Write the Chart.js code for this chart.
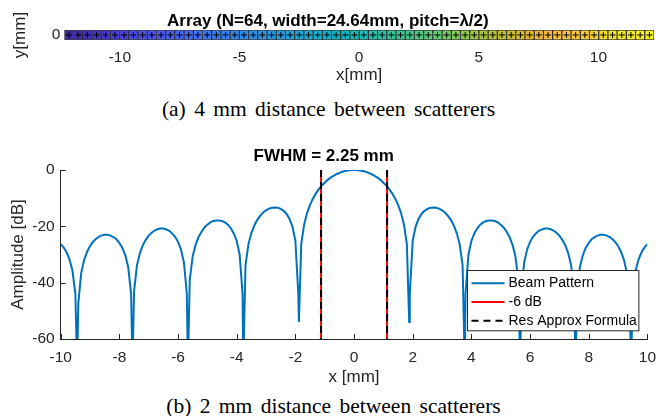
<!DOCTYPE html>
<html>
<head>
<meta charset="utf-8">
<script src="https://cdn.jsdelivr.net/npm/chart.js@4.4.0/dist/chart.umd.min.js"></script>
<style>
  body { margin: 0; background: #fff; width: 659px; height: 416px; position: relative; overflow: hidden; }
  canvas { position: absolute; left: 0; }
  .caption { position: absolute; width: 659px; text-align: center; font-family: "Liberation Serif", "Times New Roman", serif; font-size: 21.5px; line-height: 21px; word-spacing: 3px; color: #000; white-space: nowrap; }
</style>
</head>
<body>
<canvas id="array-chart" width="659" height="92" style="top:0px"></canvas>
<div class="caption" style="top:99px; left:-1px">(a) 4 mm distance between scatterers</div>
<canvas id="beam-chart" width="659" height="262" style="top:130px"></canvas>
<div class="caption" style="top:396px; left:4px">(b) 2 mm distance between scatterers</div>
<script>
// DATA //

// element centres of the 64-element array [mm]
const elemX = [
  -12.1275, -11.7425, -11.3575, -10.9725, -10.5875, -10.2025, -9.8175, -9.4325,
  -9.0475, -8.6625, -8.2775, -7.8925, -7.5075, -7.1225, -6.7375, -6.3525,
  -5.9675, -5.5825, -5.1975, -4.8125, -4.4275, -4.0425, -3.6575, -3.2725,
  -2.8875, -2.5025, -2.1175, -1.7325, -1.3475, -0.9625, -0.5775, -0.1925,
  0.1925, 0.5775, 0.9625, 1.3475, 1.7325, 2.1175, 2.5025, 2.8875,
  3.2725, 3.6575, 4.0425, 4.4275, 4.8125, 5.1975, 5.5825, 5.9675,
  6.3525, 6.7375, 7.1225, 7.5075, 7.8925, 8.2775, 8.6625, 9.0475,
  9.4325, 9.8175, 10.2025, 10.5875, 10.9725, 11.3575, 11.7425, 12.1275
];
const arrayXTicks = [-10, -5, 0, 5, 10];
const arrayYTicks = [0];

// beam pattern [mm] -> [dB]
const beamX = [
  -10, -9.9, -9.8, -9.7, -9.6, -9.5, -9.44, -9.4, -9.3, -9.2, -9.1,
  -9, -8.9, -8.8, -8.7, -8.6, -8.5, -8.4, -8.3, -8.2, -8.1,
  -8, -7.9, -7.8, -7.7, -7.6, -7.552, -7.5, -7.4, -7.3, -7.2, -7.1,
  -7, -6.9, -6.8, -6.7, -6.6, -6.5, -6.4, -6.3, -6.2, -6.1,
  -6, -5.9, -5.8, -5.7, -5.664, -5.6, -5.5, -5.4, -5.3, -5.2, -5.1,
  -5, -4.9, -4.8, -4.7, -4.6, -4.5, -4.4, -4.3, -4.2, -4.1,
  -4, -3.9, -3.8, -3.776, -3.7, -3.6, -3.5, -3.4, -3.3, -3.2, -3.1,
  -3, -2.9, -2.8, -2.7, -2.6, -2.5, -2.4, -2.3, -2.2, -2.1,
  -2, -1.9, -1.88, -1.8, -1.7, -1.6, -1.5, -1.4, -1.3, -1.2, -1.1,
  -1, -0.9, -0.8, -0.7, -0.6, -0.5, -0.4, -0.3, -0.2, -0.1,
  0, 0.1, 0.2, 0.3, 0.4, 0.5, 0.6, 0.7, 0.8, 0.9,
  1, 1.1, 1.2, 1.3, 1.4, 1.5, 1.6, 1.7, 1.8, 1.88, 1.9,
  2, 2.1, 2.2, 2.3, 2.4, 2.5, 2.6, 2.7, 2.8, 2.9,
  3, 3.1, 3.2, 3.3, 3.4, 3.5, 3.6, 3.7, 3.776, 3.8, 3.9,
  4, 4.1, 4.2, 4.3, 4.4, 4.5, 4.6, 4.7, 4.8, 4.9,
  5, 5.1, 5.2, 5.3, 5.4, 5.5, 5.6, 5.664, 5.7, 5.8, 5.9,
  6, 6.1, 6.2, 6.3, 6.4, 6.5, 6.6, 6.7, 6.8, 6.9,
  7, 7.1, 7.2, 7.3, 7.4, 7.5, 7.552, 7.6, 7.7, 7.8, 7.9,
  8, 8.1, 8.2, 8.3, 8.4, 8.5, 8.6, 8.7, 8.8, 8.9,
  9, 9.1, 9.2, 9.3, 9.4, 9.44, 9.5, 9.6, 9.7, 9.8, 9.9,
  10
];
const beamDb = [
  -26.3, -27.5, -29.2, -31.7, -35.7, -44.0, -70, -47.4, -36.5, -31.9, -29.0,
  -27.0, -25.5, -24.5, -23.7, -23.2, -23.0, -23.0, -23.3, -23.8, -24.6,
  -25.9, -27.6, -30.2, -34.4, -44.0, -70, -43.2, -33.8, -29.5, -26.7, -24.8,
  -23.3, -22.3, -21.5, -21.0, -20.8, -20.8, -21.1, -21.6, -22.5, -23.7,
  -25.5, -28.2, -32.7, -44.0, -70, -38.9, -30.6, -26.5, -23.8, -21.9, -20.4,
  -19.4, -18.6, -18.1, -17.9, -17.9, -18.1, -18.6, -19.4, -20.7, -22.5,
  -25.2, -30.0, -44.0, -70, -33.8, -26.3, -22.4, -19.7, -17.7, -16.3, -15.1,
  -14.3, -13.7, -13.4, -13.3, -13.4, -13.8, -14.5, -15.6, -17.4, -20.1,
  -25.1, -44.0, -54, -26.2, -19.3, -15.2, -12.4, -10.1, -8.3, -6.8, -5.5,
  -4.5, -3.5, -2.7, -2.1, -1.5, -1.0, -0.65, -0.36, -0.16, -0.04,
  0, -0.04, -0.16, -0.36, -0.65, -1.0, -1.5, -2.1, -2.7, -3.5,
  -4.5, -5.5, -6.8, -8.3, -10.1, -12.4, -15.2, -19.3, -26.2, -54, -44.0,
  -25.1, -20.1, -17.4, -15.6, -14.5, -13.8, -13.4, -13.3, -13.4, -13.7,
  -14.3, -15.1, -16.3, -17.7, -19.7, -22.4, -26.3, -33.8, -70, -44.0, -30.0,
  -25.2, -22.5, -20.7, -19.4, -18.6, -18.1, -17.9, -17.9, -18.1, -18.6,
  -19.4, -20.4, -21.9, -23.8, -26.5, -30.6, -38.9, -70, -44.0, -32.7, -28.2,
  -25.5, -23.7, -22.5, -21.6, -21.1, -20.8, -20.8, -21.0, -21.5, -22.3,
  -23.3, -24.8, -26.7, -29.5, -33.8, -43.2, -70, -44.0, -34.4, -30.2, -27.6,
  -25.9, -24.6, -23.8, -23.3, -23.0, -23.0, -23.2, -23.7, -24.5, -25.5,
  -27.0, -29.0, -31.9, -36.5, -47.4, -70, -44.0, -35.7, -31.7, -29.2, -27.5,
  -26.3
];
const sixDbX = [-1.125, 1.125];
const resApproxX = [-1.125, 1.125];
const beamXTicks = [-10, -8, -6, -4, -2, 0, 2, 4, 6, 8, 10];
const beamYTicks = [-60, -40, -20, 0];

// STYLE //

const fontFamily = '"Liberation Sans", Arial, Helvetica, sans-serif';
const axisColor = '#262626';
Chart.defaults.font.family = fontFamily;
Chart.defaults.color = axisColor;

// parula(64)
const parula = [
  [0.2422,0.1504,0.6603],[0.2504,0.1650,0.7076],[0.2578,0.1818,0.7511],[0.2647,0.1978,0.7952],
  [0.2706,0.2147,0.8364],[0.2751,0.2342,0.8710],[0.2783,0.2559,0.8991],[0.2803,0.2782,0.9221],
  [0.2813,0.3006,0.9414],[0.2810,0.3228,0.9579],[0.2795,0.3447,0.9717],[0.2760,0.3667,0.9829],
  [0.2699,0.3892,0.9906],[0.2602,0.4123,0.9952],[0.2440,0.4358,0.9988],[0.2206,0.4603,0.9973],
  [0.1963,0.4847,0.9892],[0.1834,0.5074,0.9798],[0.1786,0.5289,0.9682],[0.1764,0.5499,0.9520],
  [0.1687,0.5703,0.9359],[0.1540,0.5902,0.9218],[0.1460,0.6091,0.9079],[0.1380,0.6276,0.8973],
  [0.1248,0.6459,0.8883],[0.1113,0.6635,0.8763],[0.0952,0.6798,0.8598],[0.0689,0.6948,0.8394],
  [0.0297,0.7082,0.8163],[0.0036,0.7203,0.7917],[0.0067,0.7312,0.7660],[0.0433,0.7411,0.7394],
  [0.0964,0.7500,0.7120],[0.1408,0.7584,0.6842],[0.1717,0.7670,0.6554],[0.1938,0.7758,0.6251],
  [0.2161,0.7843,0.5923],[0.2470,0.7918,0.5567],[0.2906,0.7973,0.5188],[0.3406,0.8008,0.4789],
  [0.3909,0.8029,0.4354],[0.4456,0.8024,0.3909],[0.5044,0.7993,0.3480],[0.5616,0.7942,0.3045],
  [0.6174,0.7876,0.2612],[0.6720,0.7793,0.2227],[0.7242,0.7698,0.1910],[0.7738,0.7598,0.1646],
  [0.8203,0.7498,0.1535],[0.8634,0.7406,0.1596],[0.9035,0.7330,0.1774],[0.9393,0.7288,0.2100],
  [0.9728,0.7298,0.2394],[0.9956,0.7434,0.2371],[0.9970,0.7659,0.2199],[0.9952,0.7893,0.2028],
  [0.9892,0.8136,0.1885],[0.9786,0.8386,0.1766],[0.9676,0.8639,0.1643],[0.9610,0.8890,0.1537],
  [0.9597,0.9135,0.1423],[0.9628,0.9373,0.1265],[0.9691,0.9606,0.1064],[0.9769,0.9839,0.0805]
];
const elemColors = parula.map(c => `rgb(${Math.round(c[0]*255)},${Math.round(c[1]*255)},${Math.round(c[2]*255)})`);

function fixedTicks(values) {
    return scale => { scale.ticks = values.map(v => ({ value: v })); };
}

// ARRAY CHART //

const arrayChart = new Chart(document.getElementById('array-chart'), {
    type: 'bar',
    data: {
        datasets: [{
            type: 'scatter',
            data: elemX.map(x => ({ x: x, y: 0 })),
            pointStyle: 'cross',
            pointRadius: 3,
            borderColor: '#000',
            borderWidth: 1,
            order: 1
        }, {
            type: 'bar',
            data: elemX.map(x => ({ x: x, y: [-1, 1] })),
            backgroundColor: elemColors,
            borderColor: 'rgba(0,0,0,0.75)',
            borderWidth: 1,
            borderSkipped: false,
            categoryPercentage: 1,
            barPercentage: 1,
            order: 2
        }]
    },
    options: {
        responsive: false,
        animation: false,
        events: [],
        layout: { padding: { left: 0, right: 3.3, top: 0, bottom: 0 } },
        plugins: {
            legend: { display: false },
            tooltip: { enabled: false },
            title: {
                display: true,
                text: 'Array (N=64, width=24.64mm, pitch=λ/2)',
                color: '#000',
                font: { size: 17, weight: 'bold' },
                padding: { top: 11, bottom: -1.4 }
            }
        },
        scales: {
            x: {
                type: 'linear',
                min: -12.32,
                max: 12.32,
                offset: false,
                grid: { display: false, drawTicks: false },
                border: { display: false },
                afterBuildTicks: fixedTicks(arrayXTicks),
                afterFit: s => { s.height = 52; },
                ticks: { font: { size: 15.5 }, padding: 8.2, maxRotation: 0, callback: v => String(v) },
                title: { display: true, text: 'x[mm]', font: { size: 17 }, padding: { top: 0, bottom: 6.8 } }
            },
            y: {
                min: -1,
                max: 1,
                grid: { display: false, drawTicks: false },
                border: { display: false },
                afterBuildTicks: fixedTicks(arrayYTicks),
                afterFit: s => { s.width = 64.3; },
                ticks: { font: { size: 15.5 }, padding: 4, callback: v => String(v) },
                title: { display: true, text: 'y[mm]', font: { size: 17 }, padding: { top: 9.8, bottom: 0 } }
            }
        }
    }
});

// BEAM PATTERN CHART //

const yTop = beamYTicks[beamYTicks.length - 1];
const yBottom = beamYTicks[0];

function verticalLines(xs) {
    const pts = [];
    xs.forEach(x => {
        pts.push({ x: x, y: yTop }, { x: x, y: yBottom }, { x: x, y: null });
    });
    return pts;
}

// inward ticks + southeast legend, drawn like the original
const beamDecor = {
    id: 'beamDecor',
    afterDraw(chart) {
        const { ctx, chartArea, scales } = chart;
        ctx.save();
        ctx.strokeStyle = axisColor;
        ctx.lineWidth = 1;
        ctx.beginPath();
        beamXTicks.forEach(v => {
            const px = Math.round(scales.x.getPixelForValue(v)) + 0.5;
            ctx.moveTo(px, chartArea.bottom);
            ctx.lineTo(px, chartArea.bottom - 5);
        });
        beamYTicks.forEach(v => {
            const py = Math.round(scales.y.getPixelForValue(v)) + 0.5;
            ctx.moveTo(chartArea.left, py);
            ctx.lineTo(chartArea.left + 5, py);
        });
        ctx.stroke();

        // legend box
        const sets = chart.data.datasets;
        ctx.font = '14px ' + fontFamily;
        const textW = Math.max(...sets.map(d => ctx.measureText(d.label).width));
        const w = 4 + 33 + 4 + textW + 2;
        const h = 60.3;
        const x0 = Math.round(chartArea.right - 9 - w) + 0.5;
        const y0 = Math.round(chartArea.bottom - 8.7 - h) + 0.5;
        ctx.fillStyle = '#fff';
        ctx.fillRect(x0, y0, w, h);
        ctx.strokeStyle = axisColor;
        ctx.strokeRect(x0, y0, w, h);
        sets.forEach((d, i) => {
            const ry = y0 + 12.7 + i * 18.8;
            ctx.beginPath();
            ctx.strokeStyle = d.borderColor;
            ctx.lineWidth = 2;
            ctx.setLineDash(d.borderDash || []);
            ctx.moveTo(x0 + 4, ry);
            ctx.lineTo(x0 + 37, ry);
            ctx.stroke();
            ctx.setLineDash([]);
            ctx.fillStyle = '#000';
            ctx.textBaseline = 'middle';
            ctx.textAlign = 'left';
            ctx.fillText(d.label, x0 + 41, ry);
        });
        ctx.restore();
    }
};

const beamChart = new Chart(document.getElementById('beam-chart'), {
    type: 'scatter',
    data: {
        datasets: [{
            label: 'Beam Pattern',
            data: beamX.map((x, i) => ({ x: x, y: beamDb[i] })),
            showLine: true,
            borderColor: '#0072BD',
            borderWidth: 2,
            pointRadius: 0,
            order: 3
        }, {
            label: '-6 dB',
            data: verticalLines(sixDbX),
            showLine: true,
            spanGaps: false,
            borderColor: '#FF0000',
            borderWidth: 2,
            pointRadius: 0,
            order: 2
        }, {
            label: 'Res Approx Formula',
            data: verticalLines(resApproxX),
            showLine: true,
            spanGaps: false,
            borderColor: '#000000',
            borderWidth: 2,
            borderDash: [7, 5],
            pointRadius: 0,
            order: 1
        }]
    },
    options: {
        responsive: false,
        animation: false,
        events: [],
        layout: { padding: { left: 0, right: 11.6, top: 0, bottom: 0 } },
        plugins: {
            legend: { display: false },
            tooltip: { enabled: false },
            title: {
                display: true,
                text: 'FWHM = 2.25 mm',
                color: '#000',
                font: { size: 17, weight: 'bold' },
                padding: { top: 16.3, bottom: 3.3 }
            }
        },
        scales: {
            x: {
                type: 'linear',
                min: -10,
                max: 10,
                grid: { display: false, drawTicks: false },
                border: { display: true, color: axisColor, width: 1 },
                afterBuildTicks: fixedTicks(beamXTicks),
                afterFit: s => { s.height = 53; s.paddingLeft = 0; s.paddingRight = 0; },
                ticks: { font: { size: 15.5 }, padding: 9.2, maxRotation: 0, callback: v => String(v) },
                title: { display: true, text: 'x [mm]', font: { size: 17 }, padding: { top: 0, bottom: 4.3 } }
            },
            y: {
                min: yBottom,
                max: yTop,
                grid: { display: false, drawTicks: false },
                border: { display: true, color: axisColor, width: 1 },
                afterBuildTicks: fixedTicks(beamYTicks),
                afterFit: s => { s.width = 60.7; },
                ticks: { font: { size: 15.5 }, padding: 6, callback: v => String(v) },
                title: { display: true, text: 'Amplitude [dB]', font: { size: 17 }, padding: { top: 8.1, bottom: 0 } }
            }
        }
    },
    plugins: [beamDecor]
});
</script>
</body>
</html>
